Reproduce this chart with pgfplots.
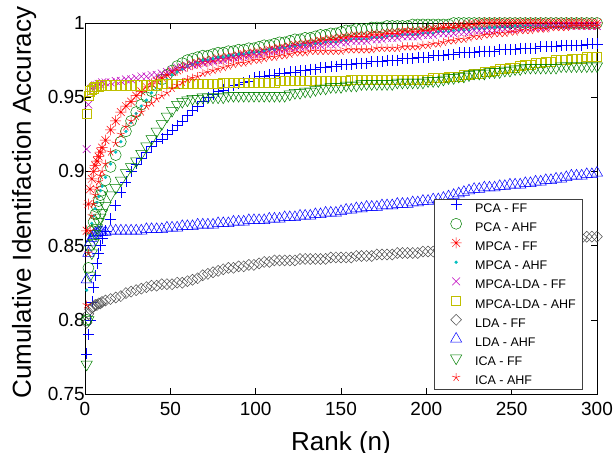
\documentclass[border=0pt]{standalone}
\usepackage{fontspec}
\setmainfont{Liberation Sans}
\usepackage{pgfplots}
\pgfplotsset{compat=1.18}
\usepackage{pgfplotstable}

% MATLAB-style asterisk: + and x together
\pgfdeclareplotmark{mstar}{%
  \pgfpathmoveto{\pgfqpoint{-\pgfplotmarksize}{0pt}}\pgfpathlineto{\pgfqpoint{\pgfplotmarksize}{0pt}}%
  \pgfpathmoveto{\pgfqpoint{0pt}{-\pgfplotmarksize}}\pgfpathlineto{\pgfqpoint{0pt}{\pgfplotmarksize}}%
  \pgfpathmoveto{\pgfqpoint{-.707\pgfplotmarksize}{-.707\pgfplotmarksize}}\pgfpathlineto{\pgfqpoint{.707\pgfplotmarksize}{.707\pgfplotmarksize}}%
  \pgfpathmoveto{\pgfqpoint{-.707\pgfplotmarksize}{.707\pgfplotmarksize}}\pgfpathlineto{\pgfqpoint{.707\pgfplotmarksize}{-.707\pgfplotmarksize}}%
  \pgfusepathqstroke}

\definecolor{mgreen}{rgb}{0,0.5,0}
\definecolor{mcyan}{rgb}{0,0.75,0.75}
\definecolor{mmag}{rgb}{0.75,0,0.75}
\definecolor{molive}{rgb}{0.75,0.75,0}
\definecolor{mgray}{rgb}{0.3,0.3,0.3}

% cumulative match scores per rank
\pgfplotstableread{
r   pff  pahf mff  mahf lff  lahf dff  dahf iff  iahf
1   .777 .800 .860 .820 .915 .939 .798 .827 .770 .810
2   .790 .835 .878 .845 .945 .951 .804 .845 .800 .845
3   .800 .850 .888 .857 .953 .954 .807 .852 .830 .860
4   .812 .860 .895 .865 .956 .955 .808 .855 .845 .870
5   .822 .866 .900 .870 .957 .956 .809 .857 .852 .878
6   .830 .871 .904 .875 .958 .957 .810 .858 .858 .884
7   .838 .876 .907 .879 .958 .957 .810 .858 .862 .889
8   .845 .880 .910 .883 .959 .957 .811 .859 .866 .893
9   .850 .884 .913 .887 .959 .958 .811 .859 .869 .897
10  .855 .887 .916 .890 .960 .958 .812 .859 .872 .900
12  .860 .894 .921 .896 .960 .958 .813 .859 .877 .905
15  .868 .903 .928 .905 .960 .958 .814 .860 .884 .913
18  .877 .911 .934 .913 .961 .958 .815 .860 .889 .919
21  .886 .920 .940 .920 .961 .958 .816 .860 .894 .925
24  .893 .927 .944 .927 .962 .958 .818 .860 .899 .930
27  .900 .934 .947 .933 .962 .958 .819 .860 .903 .934
30  .905 .940 .951 .939 .963 .958 .820 .860 .907 .937
33  .909 .945 .954 .944 .964 .958 .821 .860 .912 .940
36  .913 .950 .957 .948 .964 .958 .822 .861 .917 .944
39  .917 .954 .959 .953 .965 .958 .823 .861 .922 .946
42  .920 .958 .961 .956 .965 .958 .823 .861 .927 .949
45  .922 .962 .963 .959 .966 .959 .824 .861 .932 .951
48  .925 .965 .965 .962 .967 .959 .824 .862 .937 .953
51  .928 .968 .967 .965 .968 .959 .824 .862 .941 .956
54  .931 .971 .968 .967 .970 .959 .825 .862 .945 .958
57  .934 .973 .970 .969 .970 .959 .825 .863 .947 .960
60  .938 .975 .971 .971 .971 .959 .826 .863 .948 .962
63  .941 .976 .972 .972 .972 .959 .827 .863 .949 .963
66  .944 .977 .973 .973 .972 .959 .828 .864 .949 .964
69  .947 .978 .974 .975 .973 .959 .830 .864 .950 .966
72  .950 .978 .974 .975 .974 .959 .831 .864 .950 .967
75  .952 .979 .975 .976 .974 .959 .832 .864 .950 .968
78  .954 .980 .976 .977 .975 .959 .833 .865 .950 .969
81  .955 .980 .976 .977 .975 .960 .834 .865 .950 .970
84  .957 .981 .977 .978 .976 .960 .835 .865 .951 .971
87  .958 .981 .977 .978 .977 .960 .835 .866 .951 .972
90  .959 .982 .978 .979 .977 .960 .836 .866 .951 .973
93  .960 .982 .979 .979 .978 .960 .836 .866 .951 .973
96  .961 .983 .979 .980 .978 .960 .837 .867 .951 .974
99  .963 .983 .980 .980 .979 .960 .837 .867 .951 .975
102 .964 .984 .980 .980 .979 .960 .838 .867 .951 .975
105 .964 .985 .981 .981 .980 .960 .839 .867 .951 .976
108 .965 .985 .982 .982 .981 .960 .839 .868 .951 .977
111 .965 .986 .982 .982 .981 .960 .840 .868 .951 .977
114 .966 .987 .983 .983 .982 .961 .840 .868 .951 .978
117 .966 .987 .983 .983 .982 .961 .840 .869 .951 .978
120 .967 .988 .984 .984 .983 .961 .840 .869 .952 .979
123 .967 .989 .985 .984 .983 .961 .840 .869 .953 .980
126 .968 .989 .985 .985 .984 .961 .841 .870 .953 .980
129 .968 .990 .986 .985 .984 .961 .841 .870 .954 .980
132 .969 .990 .986 .985 .985 .961 .841 .870 .954 .981
135 .969 .991 .987 .986 .985 .961 .841 .871 .955 .981
138 .970 .992 .988 .986 .985 .961 .841 .871 .956 .981
141 .970 .992 .988 .987 .986 .961 .841 .872 .956 .981
144 .971 .993 .989 .987 .986 .961 .842 .872 .957 .981
147 .971 .993 .989 .987 .986 .961 .842 .872 .957 .981
150 .972 .994 .990 .988 .987 .961 .842 .873 .957 .981
153 .972 .995 .990 .988 .987 .961 .842 .874 .958 .982
156 .972 .995 .991 .989 .988 .962 .842 .874 .958 .982
159 .973 .996 .991 .989 .988 .962 .843 .875 .958 .982
162 .973 .996 .991 .989 .988 .962 .843 .875 .959 .982
165 .973 .996 .991 .989 .988 .962 .843 .876 .959 .982
168 .974 .997 .992 .990 .989 .962 .843 .876 .959 .982
171 .974 .997 .992 .990 .989 .962 .844 .876 .959 .983
174 .974 .997 .992 .990 .989 .962 .844 .877 .959 .983
177 .975 .998 .993 .991 .990 .962 .844 .877 .959 .983
180 .975 .998 .993 .991 .990 .962 .844 .877 .959 .983
183 .975 .998 .993 .991 .990 .962 .845 .878 .960 .983
186 .976 .998 .994 .992 .991 .962 .845 .878 .960 .984
189 .976 .998 .994 .992 .991 .962 .845 .878 .960 .984
192 .976 .999 .994 .992 .991 .962 .845 .879 .960 .984
195 .977 .999 .994 .992 .991 .962 .845 .879 .960 .984
198 .977 .999 .995 .993 .992 .962 .846 .880 .960 .985
201 .977 .999 .995 .993 .992 .962 .846 .880 .961 .985
204 .978 .999 .996 .993 .992 .963 .846 .881 .961 .986
207 .978 .999 .996 .994 .993 .963 .847 .881 .961 .986
210 .978 .999 .997 .994 .993 .963 .847 .882 .962 .987
213 .979 .999 .997 .994 .993 .964 .847 .883 .963 .988
216 .979 1    .997 .995 .993 .964 .847 .884 .963 .988
219 .980 1    .998 .995 .994 .964 .848 .885 .964 .989
222 .980 1    .998 .995 .994 .965 .848 .886 .964 .989
225 .980 1    .999 .995 .994 .965 .848 .887 .965 .990
228 .980 1    .999 .996 .995 .966 .849 .888 .966 .991
231 .981 1    1    .996 .995 .966 .849 .888 .966 .991
234 .981 1    1    .996 .995 .967 .849 .889 .966 .992
237 .981 1    1    .997 .995 .967 .850 .889 .967 .992
240 .981 1    1    .997 .995 .968 .850 .889 .967 .993
243 .982 1    1    .997 .996 .969 .850 .890 .967 .993
246 .982 1    1    .997 .996 .969 .851 .890 .968 .993
249 .982 1    1    .997 .996 .970 .851 .891 .968 .994
252 .982 1    1    .998 .996 .970 .851 .891 .969 .994
255 .983 1    1    .998 .996 .971 .851 .891 .969 .995
258 .983 1    1    .998 .997 .972 .852 .892 .970 .995
261 .983 1    1    .998 .997 .972 .852 .892 .970 .995
264 .983 1    1    .998 .997 .973 .852 .893 .970 .996
267 .984 1    1    .998 .997 .973 .853 .893 .970 .996
270 .984 1    1    .998 .997 .974 .853 .894 .970 .996
273 .984 1    1    .998 .998 .974 .853 .894 .970 .997
276 .984 1    1    .998 .998 .975 .854 .895 .970 .997
279 .985 1    1    .998 .998 .975 .854 .895 .971 .997
282 .985 1    1    .998 .998 .975 .854 .896 .971 .997
285 .985 1    1    .998 .998 .976 .855 .897 .971 .998
288 .985 1    1    .998 .998 .976 .855 .897 .971 .998
291 .985 1    1    .998 .998 .976 .855 .897 .971 .998
294 .986 1    1    .998 .998 .977 .856 .898 .971 .998
297 .986 1    1    .998 .998 .977 .856 .898 .971 .998
300 .986 1    1    .998 .998 .977 .856 .899 .971 .998
}\cmc

\begin{document}
\begin{tikzpicture}
\begin{axis}[
  width=512pt, height=371pt, scale only axis,
  xmin=0, xmax=300, ymin=0.75, ymax=1,
  xtick={0,50,...,300}, ytick={0.75,0.8,0.85,0.9,0.95,1},
  tick align=inside, major tick length=6pt,
  tick style={black, line width=0.5pt},
  axis line style={black, line width=0.6pt},
  /pgf/number format/assume math mode=true,
  tick label style={font=\fontsize{19}{19}\selectfont},
  xticklabel style={yshift=-5pt},
  yticklabel style={xshift=3.3pt},
  xlabel={Rank (n)}, ylabel={Cumulative Identifaction Accuracy},
  label style={font=\fontsize{26}{26}\selectfont},
  xlabel style={at={(axis description cs:0.5,0)}, anchor=base, yshift=-56pt},
  ylabel style={at={(axis description cs:-0.1055,0.516)}, anchor=base},
  clip=false,
  legend cell align=left,
  legend style={at={(0.971,0.013)}, anchor=south east,
    font=\fontsize{12.5}{12.5}\selectfont, draw=black!75, fill=white,
    line width=0.6pt, inner xsep=6pt, inner ysep=1pt,
    row sep=4.2pt, column sep=9pt,
    nodes={inner sep=0pt, text height=9pt, text depth=3pt}},
  every axis plot/.append style={only marks, line width=0.5pt,
    legend image code/.code={\path[draw=none,fill=none] (0pt,-3pt) rectangle (26pt,9pt);
      \draw[##1, overlay] plot coordinates {(16pt,4.5pt)};}},
]
\addplot[color=blue, mark=+, mark size=5.5pt] table[x=r,y=pff]{\cmc};
\addlegendentry{PCA - FF}
\addplot[color=mgreen, mark=o, mark size=5.5pt] table[x=r,y=pahf]{\cmc};
\addlegendentry{PCA - AHF}
\addplot[color=red, mark=mstar, mark size=5.5pt] table[x=r,y=mff]{\cmc};
\addlegendentry{MPCA - FF}
\addplot[color=mcyan, mark=*, mark size=1.4pt] table[x=r,y=mahf]{\cmc};
\addlegendentry{MPCA - AHF}
\addplot[color=mmag, mark=x, mark size=5.5pt] table[x=r,y=lff]{\cmc};
\addlegendentry{MPCA-LDA - FF}
\addplot[color=molive, mark=square, mark size=4.6pt] table[x=r,y=lahf]{\cmc};
\addlegendentry{MPCA-LDA - AHF}
\addplot[color=mgray, mark=diamond, mark size=5.5pt, mark options={xscale=1.3}] table[x=r,y=dff]{\cmc};
\addlegendentry{LDA - FF}
\addplot[color=blue, mark=triangle, mark size=6.5pt] table[x=r,y=dahf]{\cmc};
\addlegendentry{LDA - AHF}
\addplot[color=mgreen, mark=triangle, mark size=6.5pt, mark options={rotate=180}] table[x=r,y=iff]{\cmc};
\addlegendentry{ICA - FF}
\addplot[color=red, mark=star, mark size=4.3pt] table[x=r,y=iahf]{\cmc};
\addlegendentry{ICA - AHF}
\end{axis}
\pgfresetboundingbox
\useasboundingbox (-85pt,-59pt) rectangle (529pt,394pt);
\end{tikzpicture}
\end{document}
